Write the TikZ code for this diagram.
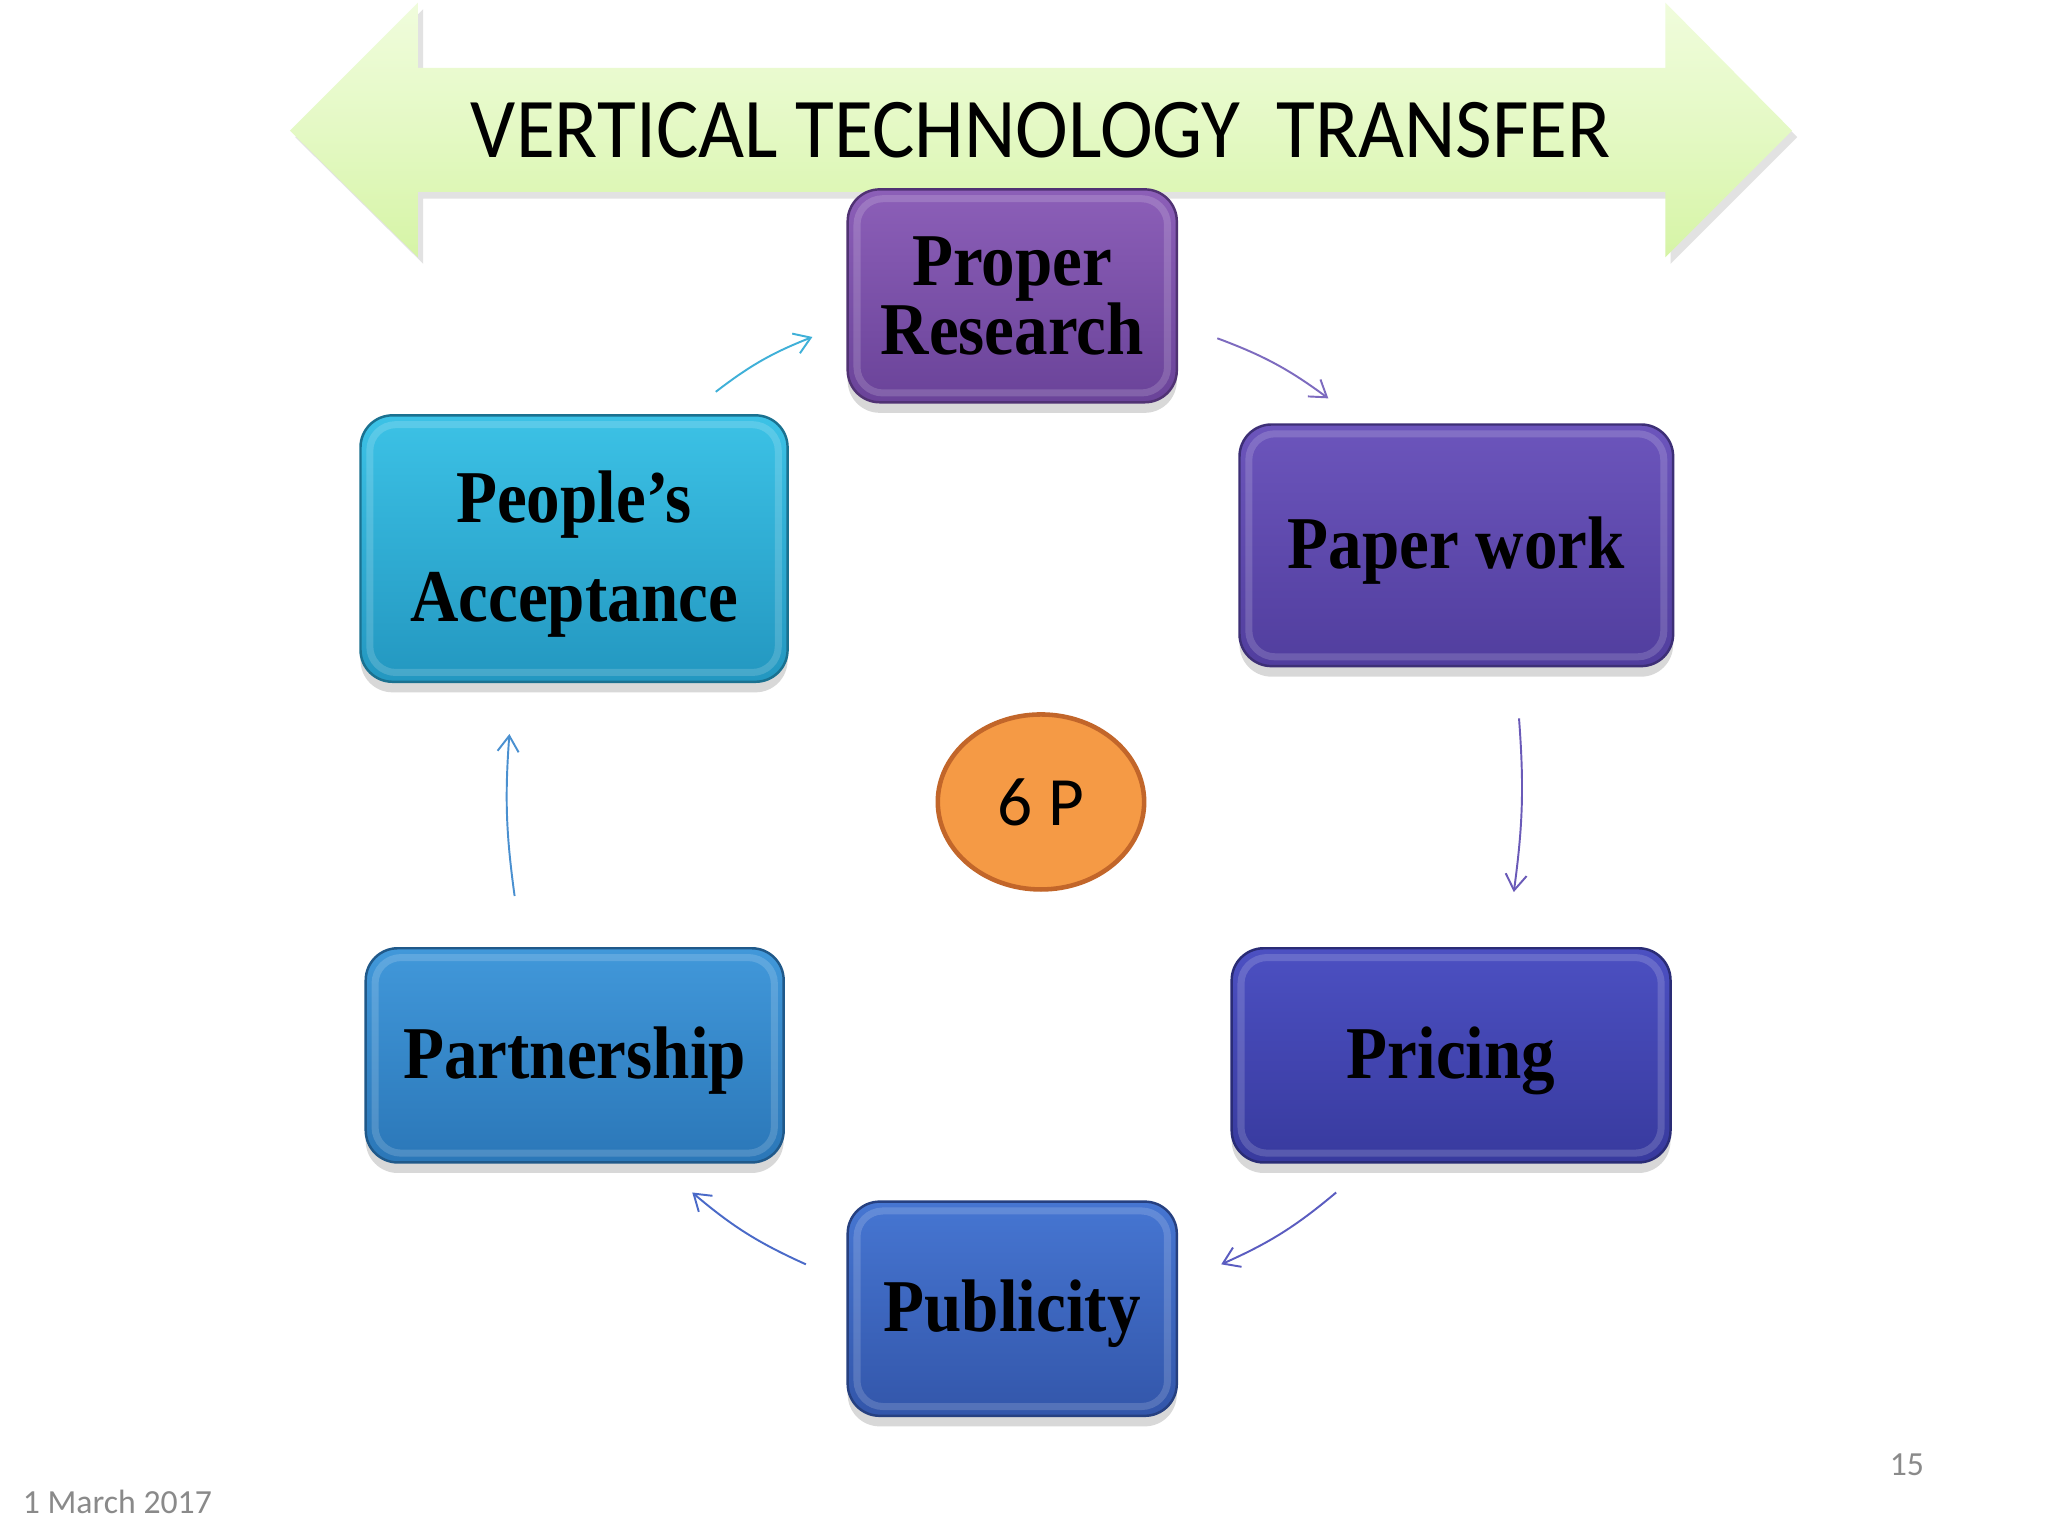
\documentclass[tikz,border=0pt]{standalone}
\usepackage{fontspec}
\setmainfont{Liberation Serif}
\newfontfamily\calib{Carlito}
\newfontfamily\calibn[FakeStretch=0.935]{Carlito}
\newfontfamily\bxf[FakeStretch=0.9,UprightFont={* Bold}]{Liberation Serif}
\usetikzlibrary{arrows.meta,shadows,shapes.geometric}
\definecolor{prT}{HTML}{8C5FB8}\definecolor{prB}{HTML}{6A4399}
\definecolor{pwT}{HTML}{6C55BC}\definecolor{pwB}{HTML}{513E9E}
\definecolor{paT}{HTML}{3CC2E6}\definecolor{paB}{HTML}{2397C0}
\definecolor{psT}{HTML}{4198DA}\definecolor{psB}{HTML}{2B77B8}
\definecolor{pcT}{HTML}{4C50C2}\definecolor{pcB}{HTML}{383A9E}
\definecolor{pbT}{HTML}{4676D2}\definecolor{pbB}{HTML}{3356AA}
\definecolor{sixF}{HTML}{F59A45}\definecolor{sixD}{HTML}{C2662A}
\definecolor{grayT}{HTML}{8A8A8A}
\def\U{0.0130612cm}
\tikzset{
  box/.style n args={4}{rounded corners=0.32cm, draw=#2!75!black, line width=0.7pt,
    top color=#1, bottom color=#2, minimum width=#3*\U, minimum height=#4*\U,
    inner sep=0pt,
    drop shadow={shadow xshift=0pt, shadow yshift=-3pt, opacity=0.3, fill=gray}},
  btxt/.style={inner sep=0pt, align=center, font=\bxf\fontsize{21.2}{19.7}\selectfont, yshift=-1.5pt},
  conn/.style={line width=0.55pt, -{Straight Barb[length=4.5pt,width=6pt]}},
}
\begin{document}
\begin{tikzpicture}[x=0.0130612cm,y=-0.0130612cm]
\useasboundingbox (0,0) rectangle (1568,1176);
\fill[white] (0,0) rectangle (1568,1176);
% banner
\fill[gray!45,opacity=0.5] (226,105) -- (324,7) -- (324,57) -- (1279,57) -- (1279,7) -- (1376,105) -- (1279,202) -- (1279,152) -- (324,152) -- (324,202) -- cycle;
\shade[top color={rgb,255:red,240;green,252;blue,220}, bottom color={rgb,255:red,214;green,244;blue,166}, middle color={rgb,255:red,228;green,249;blue,196}]
  (222,100) -- (320,2) -- (320,52) -- (1275,52) -- (1275,2) -- (1372,100) -- (1275,197) -- (1275,147) -- (320,147) -- (320,197) -- cycle;
\node (title) at (797,100) {\calibn\fontsize{24.2}{29}\selectfont VERTICAL TECHNOLOGY\ \ TRANSFER};
% boxes
\node[box={prT}{prB}{252}{163}] (pr) at (775,226.5) {};
\node[box={pwT}{pwB}{332}{185}] (pw) at (1115,417.5) {};
\node[box={paT}{paB}{327}{204}] (pa) at (439.5,420) {};
\node[box={psT}{psB}{320}{164}] (ps) at (440,808) {};
\node[box={pcT}{pcB}{336}{164}] (pc) at (1111,808) {};
\node[box={pbT}{pbB}{252}{164}] (pb) at (775,1002) {};
% bevel highlights
\foreach \n in {pr,pw,pa,ps,pc,pb}{
  \draw[white, opacity=0.16, line width=2pt, rounded corners=0.26cm]
    ([shift={(3pt,-3pt)}]\n.north west) rectangle ([shift={(-3pt,3pt)}]\n.south east);
}
% labels
\node[btxt, yshift=1.5pt] (prt) at (pr) {Proper\\Research};
\node[btxt] (pwt) at (pw) {Paper work};
\node[btxt, font=\bxf\fontsize{21.2}{28.2}\selectfont] (pat) at (pa) {People’s\\Acceptance};
\node[btxt] (pst) at (ps) {Partnership};
\node[btxt] (pct) at (pc) {Pricing};
\node[btxt] (pbt) at (pb) {Publicity};
% centre
\node[ellipse, draw=sixD, line width=1.3pt, fill=sixF, minimum width=158*\U, minimum height=134*\U, inner sep=0pt,
  font=\calib\fontsize{19.7}{24}\selectfont] (six) at (797,614) {6 P};
% connectors
\coordinate (a1s) at (548,300); \coordinate (a1e) at (622,258);
\coordinate (a2s) at (932,259); \coordinate (a2e) at (1017,305);
\coordinate (a3s) at (1163,550); \coordinate (a3e) at (1159,683);
\coordinate (a4s) at (1023,913); \coordinate (a4e) at (935,968);
\coordinate (a5s) at (617,968); \coordinate (a5e) at (530,913);
\coordinate (a6s) at (394,686); \coordinate (a6e) at (390,562);
\draw[conn, color={rgb,255:red,63;green,176;blue,216}] (a1s) to[bend left=8] (a1e);
\draw[conn, color={rgb,255:red,125;green,107;blue,191}] (a2s) to[bend left=8] (a2e);
\draw[conn, color={rgb,255:red,106;green,90;blue,184}] (a3s) to[bend left=6] (a3e);
\draw[conn, color={rgb,255:red,90;green,92;blue,192}] (a4s) to[bend left=8] (a4e);
\draw[conn, color={rgb,255:red,74;green,106;blue,200}] (a5s) to[bend left=8] (a5e);
\draw[conn, color={rgb,255:red,74;green,144;blue,208}] (a6s) to[bend left=6] (a6e);
% footer
\node[anchor=base west, text=grayT, inner sep=0pt, font=\calib\fontsize{9.6}{12}\selectfont] (date) at (17,1159) {1 March 2017};
\node[anchor=base, text=grayT, inner sep=0pt, font=\calib\fontsize{9.6}{12}\selectfont] (num) at (1460,1130) {15};
\end{tikzpicture}
\end{document}
